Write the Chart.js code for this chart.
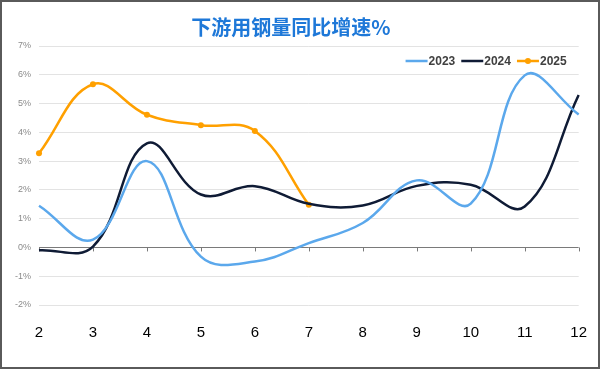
<!DOCTYPE html>
<html>
<head>
<meta charset="utf-8">
<script src="https://cdn.jsdelivr.net/npm/chart.js@4"></script>
<style>
html,body{margin:0;padding:0;background:#fff;}
#wrap{width:600px;height:369px;box-sizing:border-box;border:2px solid #5a5a5a;background:#fff;}
canvas{display:block;}
</style>
</head>
<body>
<div id="wrap"><canvas id="c" width="596" height="365"></canvas></div>
<script>
const categories = ['2','3','4','5','6','7','8','9','10','11','12'];
const values2023 = [1.45, 0.27, 3.0, -0.32, -0.49, 0.15, 0.85, 2.33, 1.52, 5.98, 4.62];
const values2024 = [-0.1, 0.03, 3.62, 1.84, 2.13, 1.52, 1.46, 2.14, 2.18, 1.42, 5.3];
const values2025 = [3.27, 5.67, 4.61, 4.25, 4.05, 1.48];
const seriesNames = ['2023', '2024', '2025'];
const yTicks = [-2, -1, 0, 1, 2, 3, 4, 5, 6, 7];

const colors = ['#5BA8EC', '#0F1B35', '#FFA000'];

const zeroTicks = {
  id: 'zeroTicks',
  beforeDatasetsDraw(chart) {
    const x = chart.scales.x, y = chart.scales.y, ctx = chart.ctx;
    const y0 = y.getPixelForValue(0);
    ctx.save();
    ctx.strokeStyle = '#7a7a7a'; ctx.lineWidth = 1;
    for (let i = 0; i < categories.length; i++) {
      const px = Math.round(x.getPixelForValue(i)) + 0.5;
      ctx.beginPath(); ctx.moveTo(px, y0); ctx.lineTo(px, y0 + 4); ctx.stroke();
    }
    ctx.restore();
  }
};

const inlineLegend = {
  id: 'inlineLegend',
  afterDatasetsDraw(chart) {
    const ctx = chart.ctx;
    const right = chart.chartArea.right - 12;
    const cy = chart.chartArea.top + 15;
    const lineW = 22, gapIcon = 1, gapItem = 6;
    ctx.save();
    ctx.font = "bold 12px 'Liberation Sans', Arial, sans-serif";
    ctx.textBaseline = 'middle';
    const ds = chart.data.datasets;
    const widths = ds.map(d => lineW + gapIcon + ctx.measureText(d.label).width);
    let total = widths.reduce((a, b) => a + b, 0) + gapItem * (ds.length - 1);
    let x = right - total;
    ds.forEach((d, i) => {
      ctx.strokeStyle = d.borderColor; ctx.lineWidth = 2.5;
      ctx.beginPath(); ctx.moveTo(x, cy); ctx.lineTo(x + lineW, cy); ctx.stroke();
      if (d.pointRadius > 0) {
        ctx.fillStyle = d.borderColor;
        ctx.beginPath(); ctx.arc(x + lineW / 2, cy, 3, 0, Math.PI * 2); ctx.fill();
      }
      ctx.fillStyle = '#404040';
      ctx.fillText(d.label, x + lineW + gapIcon, cy + 1);
      x += widths[i] + gapItem;
    });
    ctx.restore();
  }
};

new Chart(document.getElementById('c'), {
  type: 'line',
  data: {
    labels: categories,
    datasets: [
      { label: seriesNames[0], data: values2023, borderColor: colors[0], backgroundColor: colors[0], borderWidth: 2.5, pointRadius: 0, tension: 0.4 },
      { label: seriesNames[1], data: values2024, borderColor: colors[1], backgroundColor: colors[1], borderWidth: 2.5, pointRadius: 0, tension: 0.4 },
      { label: seriesNames[2], data: values2025, borderColor: colors[2], backgroundColor: colors[2], borderWidth: 2.5, pointRadius: 3, pointBorderWidth: 0, tension: 0.4 }
    ]
  },
  options: {
    responsive: false,
    animation: false,
    devicePixelRatio: 1,
    layout: { padding: { left: 0, right: 18, top: 0, bottom: 0 } },
    plugins: {
      title: {
        display: true,
        text: '下游用钢量同比增速%',
        color: '#1E78D8',
        font: { family: "'Noto Sans CJK SC', sans-serif", size: 20, weight: 'bold' },
        padding: { top: 13, bottom: 7 }
      },
      legend: { display: false },
      tooltip: { enabled: false }
    },
    scales: {
      x: {
        grid: { display: false },
        border: { display: false },
        ticks: { color: '#000', padding: 11, font: { family: "'Liberation Sans', Arial, sans-serif", size: 15 } },
        afterFit(s) { s.height = 62; }
      },
      y: {
        min: -2, max: 7,
        afterBuildTicks(s) { s.ticks = yTicks.map(v => ({ value: v })); },
        grid: {
          drawTicks: false,
          color: ctx => ctx.tick && ctx.tick.value === 0 ? '#7a7a7a' : '#e3e3e3',
          lineWidth: 1
        },
        border: { display: false },
        ticks: {
          color: '#8a8a8a', padding: 8,
          font: { family: "'Liberation Sans', Arial, sans-serif", size: 9 },
          callback: v => v + '%'
        },
        afterFit(s) { s.width = 37; }
      }
    }
  },
  plugins: [zeroTicks, inlineLegend]
});
</script>
</body>
</html>
